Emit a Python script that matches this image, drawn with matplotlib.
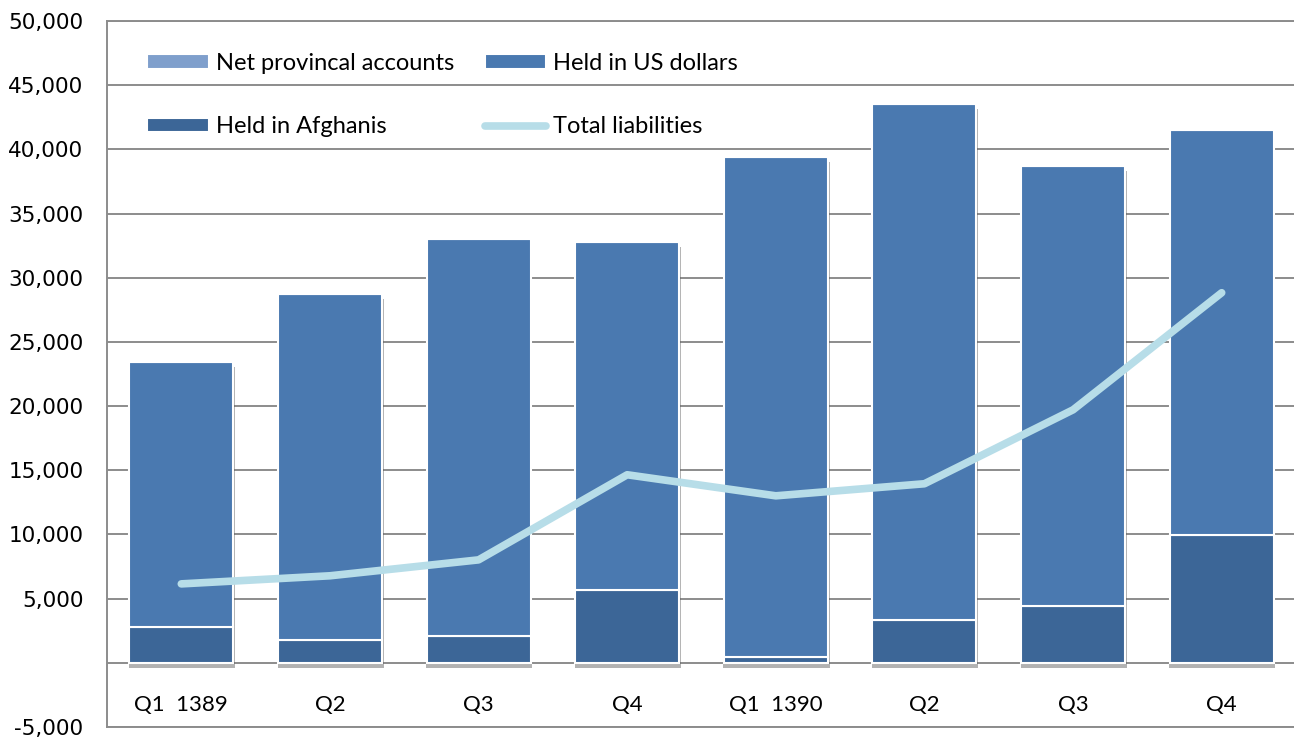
import matplotlib.pyplot as plt
import matplotlib.patheffects as pe
from matplotlib.ticker import FuncFormatter
import numpy as np

plt.rcParams['font.family'] = ['Lato', 'DejaVu Sans']

quarters = ["Q1  1389", "Q2", "Q3", "Q4", "Q1  1390", "Q2", "Q3", "Q4"]
held_afghanis = [2800, 1790, 2100, 5690, 470, 3350, 4440, 9970]
held_usd = [20650, 26960, 30930, 27110, 38950, 40200, 34280, 31550]
net_provincial = [0, 0, 0, 0, 0, 0, 0, 0]
total_liabilities = [6150, 6780, 8020, 14650, 13010, 13950, 19710, 28830]

c_net = "#7f9fcc"
c_usd = "#4a79b0"
c_afg = "#3c6697"
c_line = "#b7dde8"

x = np.arange(len(quarters))
w = 0.70
totals = np.array(held_afghanis) + np.array(held_usd) + np.array(net_provincial)

fig = plt.figure(figsize=(12.94, 7.41), dpi=100)
ax = fig.add_axes([107 / 1294, 14 / 741, 1189 / 1294, 706 / 741])

# soft drop shadow behind each stacked column
shadow = [pe.SimplePatchShadow(offset=(0.5, -4), shadow_rgbFace="#555555", alpha=0.45), pe.Normal()]
ax.bar(x, totals, w * 1.02, color="white", linewidth=0, zorder=2.5, path_effects=shadow)

b1 = ax.bar(x, held_afghanis, w, color=c_afg, edgecolor="white", linewidth=1.5, zorder=3)
b2 = ax.bar(x, held_usd, w, bottom=held_afghanis, color=c_usd, edgecolor="white",
            linewidth=1.5, zorder=3)
bottom2 = np.array(held_afghanis) + np.array(held_usd)
b3 = ax.bar(x, net_provincial, w, bottom=bottom2, color=c_net, edgecolor="white",
            linewidth=1.5, zorder=3)
ln, = ax.plot(x, total_liabilities, color=c_line, linewidth=5.5,
              solid_capstyle="round", solid_joinstyle="round", zorder=4)

ax.set_xlim(-0.5, 7.5)
ax.set_ylim(-5000, 50000)
ax.set_yticks(np.arange(-5000, 50001, 5000))
ax.yaxis.set_major_formatter(FuncFormatter(lambda v, p: "" if v == 0 else f"{int(v):,}"))
ax.tick_params(axis="y", length=0, labelsize=15.5, pad=17)
ax.set_xticks([])
for lbl in ax.get_yticklabels():
    lbl.set_fontfamily(["DejaVu Sans"])
ax.grid(axis="y", color="#8c8c8c", linewidth=1.4, zorder=0)
ax.set_axisbelow(True)
for s in ax.spines.values():
    s.set_color("#8c8c8c")
    s.set_linewidth(1.4)
ax.spines["right"].set_visible(False)

for xi, q in zip(x, quarters):
    ax.text(xi, -3300, q, ha="center", va="center", fontsize=16)

# column-first fill: row 1 = net / USD, row 2 = afghanis / total
ax.legend([b3, b1, b2, ln],
          ["Net provincal accounts", "Held in Afghanis", "Held in US dollars", "Total liabilities"],
          ncol=2, loc="upper left", bbox_to_anchor=(0.016, 0.985), frameon=False,
          fontsize=17, handlelength=2.6, handleheight=0.55, labelspacing=1.8,
          columnspacing=1.3, handletextpad=0.3)

fig.savefig("out.png", dpi=100)
